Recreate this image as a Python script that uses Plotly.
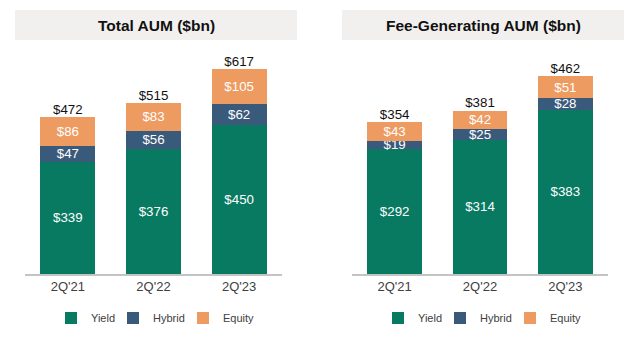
import plotly.graph_objects as go

periods = ["2Q'21", "2Q'22", "2Q'23"]
series_names = ["Yield", "Hybrid", "Equity"]

total_yield = [339, 376, 450]
total_hybrid = [47, 56, 62]
total_equity = [86, 83, 105]
total_sum = [472, 515, 617]

fee_yield = [292, 314, 383]
fee_hybrid = [19, 25, 28]
fee_equity = [43, 42, 51]
fee_sum = [354, 381, 462]

colors = {"Yield": "#087a62", "Hybrid": "#3a5a7b", "Equity": "#ee9b61"}
FONT = "Arial, Liberation Sans, sans-serif"

fig = go.Figure()

legend_widths = {"Yield": 17, "Hybrid": 25, "Equity": 40}

def add_panel(vals, totals, xa, ya, legend):
    for name, v in zip(series_names, vals):
        fig.add_trace(go.Bar(
            x=periods, y=v, name=name, xaxis=xa, yaxis=ya,
            marker=dict(color=colors[name], line=dict(width=0)),
            texttemplate="$%{y}", textposition="inside",
            insidetextanchor="middle", constraintext="none",
            textfont=dict(color="#ffffff", size=13.3, family=FONT),
            legend=legend, legendwidth=legend_widths[name],
            hoverinfo="skip",
        ))
    fig.add_trace(go.Scatter(
        x=periods, y=totals, mode="text", xaxis=xa, yaxis=ya,
        texttemplate="$%{y}", textposition="top center",
        textfont=dict(color="#111111", size=13.3, family=FONT),
        showlegend=False, hoverinfo="skip",
    ))

add_panel([total_yield, total_hybrid, total_equity], total_sum, "x", "y", "legend")
add_panel([fee_yield, fee_hybrid, fee_equity], fee_sum, "x2", "y2", "legend2")

W, H = 640, 337
def px(x):
    return x / W
def py(y):
    return 1 - y / H

ydom = [py(274), py(50)]
axis_common = dict(range=[-0.5, 2.5], showgrid=False, zeroline=False,
                   showline=True, linecolor="#c4c4c4", linewidth=1.5,
                   ticks="", tickfont=dict(size=13, color="#404040", family=FONT),
                   fixedrange=True)
yaxis_common = dict(showgrid=False, zeroline=False, showline=False,
                    showticklabels=False, fixedrange=True)

fig.update_layout(
    width=W, height=H,
    margin=dict(l=0, r=0, t=0, b=0),
    paper_bgcolor="white", plot_bgcolor="white",
    barmode="stack", bargap=0.36,
    font=dict(family=FONT),
    xaxis=dict(domain=[px(25), px(282)], anchor="y", **axis_common),
    xaxis2=dict(domain=[px(352), px(608)], anchor="y2", **axis_common),
    yaxis=dict(domain=ydom, range=[0, 675], anchor="x", **yaxis_common),
    yaxis2=dict(domain=ydom, range=[0, 523], anchor="x2", **yaxis_common),
    legend=dict(orientation="h", x=px(51), y=py(318), xanchor="left", yanchor="middle",
                font=dict(size=11, color="#404040", family=FONT), traceorder="normal",
                bgcolor="rgba(0,0,0,0)"),
    legend2=dict(orientation="h", x=px(378), y=py(318), xanchor="left", yanchor="middle",
                 font=dict(size=11, color="#404040", family=FONT), traceorder="normal",
                 bgcolor="rgba(0,0,0,0)"),
    shapes=[
        dict(type="rect", xref="paper", yref="paper", x0=px(15), x1=px(297),
             y0=py(40), y1=py(10), fillcolor="#f1f0ef", line=dict(width=0), layer="below"),
        dict(type="rect", xref="paper", yref="paper", x0=px(342), x1=px(624),
             y0=py(40), y1=py(10), fillcolor="#f1f0ef", line=dict(width=0), layer="below"),
    ],
    annotations=[
        dict(text="<b>Total AUM ($bn)</b>", xref="paper", yref="paper",
             x=px(156), y=py(25), xanchor="center", yanchor="middle", showarrow=False,
             font=dict(size=15.5, color="#111111", family=FONT)),
        dict(text="<b>Fee-Generating AUM ($bn)</b>", xref="paper", yref="paper",
             x=px(483), y=py(25), xanchor="center", yanchor="middle", showarrow=False,
             font=dict(size=15.5, color="#111111", family=FONT)),
    ],
)

fig.write_html("out.html")
